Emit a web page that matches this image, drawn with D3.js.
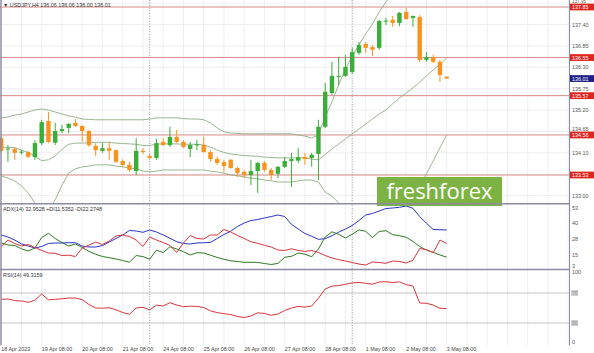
<!DOCTYPE html>
<html><head><meta charset="utf-8">
<script src="https://cdn.jsdelivr.net/npm/d3@7"></script>
<style>
html,body{margin:0;padding:0;background:#fff;}
svg{display:block;font-family:"Liberation Sans",Arial,sans-serif;}
</style></head><body>
<svg id="c" width="594" height="353"></svg>
<script>
// ---------- DATA ----------
const open  = [134.48,134.19,134.20,134.11,134.12,133.99,134.35,134.92,134.36,134.66,134.74,134.87,134.79,134.66,134.28,134.15,134.22,134.17,133.89,133.79,133.63,134.15,134.02,133.97,134.38,134.30,134.51,134.38,134.20,134.29,134.30,134.12,133.94,133.86,133.92,133.71,133.61,133.53,133.63,133.84,133.66,133.56,133.74,133.89,133.90,133.99,133.97,134.07,134.77,135.64,136.06,136.08,136.18,136.67,136.90,136.82,136.80,137.48,137.52,137.44,137.72,137.57,137.59,136.49,136.56,136.44,136.06];
const high  = [134.53,134.30,134.25,134.17,134.15,134.43,134.95,135.15,134.87,134.82,134.87,134.97,134.82,134.69,134.35,134.35,134.38,134.18,133.94,133.87,134.48,134.22,134.07,134.46,134.48,134.77,134.69,134.43,134.38,134.43,134.51,134.17,134.00,133.92,133.94,133.74,133.66,133.92,133.87,133.89,133.71,133.76,133.99,134.10,134.22,134.10,134.10,134.95,135.90,136.44,136.57,136.62,136.80,136.95,136.95,136.87,137.52,137.57,137.62,137.72,137.82,137.63,137.64,136.69,136.62,136.49,136.06];
const low   = [134.10,133.87,133.92,134.06,133.97,133.92,134.30,134.35,134.30,134.61,134.61,134.77,134.38,134.25,134.02,134.10,133.92,133.84,133.74,133.61,133.53,134.07,133.94,133.92,134.28,134.25,134.35,134.22,133.99,134.17,134.10,133.87,133.79,133.61,133.69,133.48,133.45,133.27,133.07,133.61,133.40,133.45,133.71,133.22,133.84,133.79,133.74,133.40,134.74,135.59,135.85,136.05,136.13,136.62,136.67,136.59,136.75,137.39,137.34,137.36,137.52,137.34,136.44,136.44,136.41,135.92,136.00];
const close = [134.15,134.21,134.10,134.13,134.00,134.35,134.89,134.38,134.66,134.71,134.84,134.79,134.66,134.30,134.17,134.22,134.15,133.87,133.79,133.66,134.15,134.12,133.97,134.35,134.30,134.51,134.38,134.25,134.30,134.32,134.12,133.94,133.84,133.76,133.71,133.58,133.53,133.63,133.84,133.66,133.53,133.74,133.89,133.94,133.99,133.94,134.05,134.77,135.67,136.08,136.08,136.31,136.69,136.87,136.80,136.75,137.49,137.50,137.44,137.70,137.54,137.62,136.49,136.56,136.44,136.10,136.01];

const bbUpper  = [135.00,135.02,135.07,135.10,135.15,135.20,135.23,135.20,135.15,135.10,135.05,135.02,134.97,134.96,134.95,134.95,134.95,134.95,134.95,134.95,134.95,134.95,134.97,135.00,135.00,135.00,135.00,134.98,134.97,134.97,134.95,134.87,134.74,134.64,134.61,134.60,134.59,134.59,134.59,134.59,134.59,134.59,134.59,134.59,134.56,134.53,134.48,134.56,135.02,135.41,135.85,136.26,136.59,136.87,137.16,137.41,137.72,137.98,138.18,138.34,138.47,138.57,138.60,138.60,138.57,138.54,138.52];
const bbMiddle = [134.25,134.24,134.23,134.17,134.11,134.01,133.90,133.92,134.02,134.19,134.32,134.35,134.35,134.36,134.37,134.37,134.37,134.35,134.34,134.33,134.32,134.29,134.29,134.32,134.33,134.33,134.33,134.32,134.32,134.32,134.30,134.25,134.17,134.11,134.07,134.05,134.03,134.02,134.01,133.99,133.98,133.97,133.97,133.97,133.97,133.97,133.94,133.92,134.06,134.20,134.33,134.46,134.59,134.71,134.84,134.97,135.10,135.20,135.36,135.51,135.64,135.77,135.92,136.08,136.23,136.38,136.54];
const bbLower  = [133.51,133.45,133.38,133.25,133.07,132.81,132.58,132.63,132.89,133.27,133.58,133.69,133.74,133.76,133.79,133.79,133.79,133.76,133.74,133.71,133.69,133.63,133.61,133.63,133.66,133.66,133.66,133.66,133.66,133.66,133.66,133.63,133.61,133.58,133.53,133.51,133.48,133.45,133.43,133.40,133.38,133.35,133.35,133.35,133.38,133.40,133.40,133.35,133.09,132.99,132.81,132.66,132.58,132.55,132.53,132.53,132.48,132.43,132.53,132.68,132.81,132.97,133.25,133.56,133.89,134.23,134.56];

const adx     = [28.98,27.4,25.0,22.0,20.3,18.75,19.93,22.29,22.69,22.69,22.92,22.92,20.3,19.54,19.54,20.7,23.47,26.23,28.98,32.53,32.13,31.11,32.92,31.35,29.0,26.39,23.71,22.29,21.90,22.69,22.92,23.08,26.23,29.38,31.90,35.68,38.43,40.40,41.19,42.37,43.55,44.73,43.55,37.41,33.71,30.17,27.96,25.60,26.07,28.43,31.19,33.71,36.46,40.40,44.73,45.91,47.88,49.85,50.24,50.80,51.82,50.0,43.55,38.20,33.3,33.1,32.95];
const plusDI  = [22.69,21.11,20.72,18.12,16.39,18.75,27.02,30.32,26.23,23.08,20.32,21.90,19.14,16.15,13.79,12.06,11.11,10.09,8.91,7.57,12.84,11.98,9.93,17.02,15.13,19.77,17.96,15.83,13.24,15.05,14.81,13.08,11.35,9.85,8.67,8.12,7.49,7.49,7.41,6.54,5.76,6.62,11.43,12.21,14.81,13.87,11.82,17.96,27.41,31.50,29.54,26.62,29.54,33.00,31.90,27.02,31.74,32.37,29.30,28.43,27.25,23.87,19.93,17.17,15.36,13.24,11.54];
const minusDI = [19.54,25.05,22.29,20.32,21.50,19.14,16.78,14.81,14.57,12.84,13.08,12.06,18.75,20.95,23.47,21.50,24.26,28.20,28.98,27.80,25.05,19.93,27.41,25.05,23.08,20.72,15.20,22.69,28.59,26.23,25.83,28.98,28.98,33.31,31.35,28.59,26.23,23.63,22.45,20.87,19.54,17.17,16.78,18.12,16.78,15.99,16.78,15.20,12.84,10.87,9.54,8.51,7.33,6.15,5.36,7.72,7.33,6.70,8.51,8.12,6.94,9.06,18.35,17.41,15.05,25.05,22.27];
const rsi     = [61.6,62.0,60.0,59.33,57.6,60.4,68.67,60.93,61.6,62.27,63.33,63.33,61.2,54.67,50.0,49.73,50.4,47.6,44.0,41.73,50.13,50.93,47.47,53.87,52.67,57.07,54.0,51.73,52.4,52.13,50.67,46.27,43.87,42.4,41.33,38.67,37.33,39.33,43.6,42.67,40.27,42.0,46.67,49.87,52.13,51.2,52.67,63.07,75.33,79.2,79.87,81.6,83.47,84.13,82.93,81.73,84.67,85.07,83.87,84.93,81.2,79.33,56.67,56.27,54.0,49.6,49.32];

const timeLabels    = ["18 Apr 2023","19 Apr 08:00","20 Apr 08:00","21 Apr 08:00","24 Apr 08:00","25 Apr 08:00","26 Apr 08:00","27 Apr 08:00","28 Apr 08:00","1 May 08:00","2 May 08:00","3 May 08:00"];
const timeLabelBars = [0,6,12,18,24,30,36,42,48,54,60,66];
const weekSeparatorBars = [22,52];
const priceTicks  = [137.95,137.40,136.85,136.30,135.75,135.20,134.65,134.10,133.55,133.00];
const levelLines  = [137.85,136.55,135.57,134.56,133.53];
const currentPrice = 136.01;
const adxTicks  = [53,40.5,28,15.5,3];
const adxTickLabels = ["53","40","28","15","3"];
const rsiLevels = [70,30];
const header   = "USDJPY,H4 136.06 136.06 136.00 136.01";
const adxHeader = "ADX(14) 32.9528 +DI11.5352 -DI22.2748";
const rsiHeader = "RSI(14) 49.3159";

// ---------- LAYOUT ----------
const axisX = 569.5;
const FS = 5.4;
const svg = d3.select("#c");
const n = close.length;
const x = d3.scaleLinear().domain([0, 66]).range([1.2, 446.7]);
const yP = d3.scaleLinear().domain([133.53, 137.85]).range([175, 7]);
const yA = d3.scaleLinear().domain([3, 53]).range([268, 204.5]);
const yR = d3.scaleLinear().domain([0, 100]).range([345.5, 270.5]);

const col = {green:"#3aae38", orange:"#f7931e", grid:"#ebebf0", level:"#d88a86",
  levelBox:"#e0251f", bb:"#8fae84", blue:"#2a34c8", red:"#d8353b", dgreen:"#2f7a22",
  axis:"#8b8ba3", text:"#555"};

const defs = svg.append("defs");
function clip(id, y0, y1){ defs.append("clipPath").attr("id", id).append("rect")
  .attr("x", 0).attr("y", y0).attr("width", axisX).attr("height", y1 - y0); }
clip("cMain", 0, 203); clip("cAdx", 204.5, 268.5); clip("cRsi", 270.5, 345.5);

// vertical grid
const gridBars = d3.range(0, 85, 3);
svg.append("g").selectAll("line").data(gridBars).join("line")
  .attr("x1", d => x(d)).attr("x2", d => x(d)).attr("y1", 0).attr("y2", 345.5)
  .attr("stroke", col.grid).attr("stroke-width", 0.8);
// horizontal grid main
svg.append("g").selectAll("line").data(priceTicks).join("line")
  .attr("x1", 0).attr("x2", axisX).attr("y1", d => yP(d)).attr("y2", d => yP(d))
  .attr("stroke", col.grid).attr("stroke-width", 0.8);

// week separators
svg.append("g").selectAll("line").data(weekSeparatorBars).join("line")
  .attr("x1", d => x(d)).attr("x2", d => x(d)).attr("y1", 0).attr("y2", 345.5)
  .attr("stroke", "#777").attr("stroke-width", 0.8).attr("stroke-dasharray", "1,1.6");

// level lines
svg.append("g").selectAll("line").data(levelLines).join("line")
  .attr("x1", 0).attr("x2", axisX).attr("y1", d => yP(d)).attr("y2", d => yP(d))
  .attr("stroke", col.level).attr("stroke-width", 1);

// Bollinger
const main = svg.append("g").attr("clip-path", "url(#cMain)");
[bbUpper, bbMiddle, bbLower].forEach(arr => {
  main.append("path").datum(arr)
    .attr("d", d3.line().x((d, i) => x(i)).y(d => yP(d)))
    .attr("fill", "none").attr("stroke", col.bb).attr("stroke-width", 0.9);
});

// candles
const idx = d3.range(n);
const cg = main.append("g");
cg.selectAll("line").data(idx).join("line")
  .attr("x1", i => x(i)).attr("x2", i => x(i))
  .attr("y1", i => yP(high[i])).attr("y2", i => yP(low[i]))
  .attr("stroke", i => close[i] >= open[i] ? col.green : col.orange).attr("stroke-width", 1);
const bw = 4.4;
cg.selectAll("rect").data(idx).join("rect")
  .attr("x", i => x(i) - bw / 2).attr("width", bw)
  .attr("y", i => yP(Math.max(open[i], close[i])))
  .attr("height", i => Math.max(1, Math.abs(yP(open[i]) - yP(close[i]))))
  .attr("fill", i => close[i] >= open[i] ? col.green : col.orange);

// ADX lines
const ag = svg.append("g").attr("clip-path", "url(#cAdx)");
[[adx, col.blue], [plusDI, col.dgreen], [minusDI, col.red]].forEach(([arr, c]) => {
  ag.append("path").datum(arr)
    .attr("d", d3.line().x((d, i) => x(i)).y(d => yA(d)))
    .attr("fill", "none").attr("stroke", c).attr("stroke-width", 1);
});

// RSI
const rg = svg.append("g").attr("clip-path", "url(#cRsi)");
rg.selectAll("line.lv").data(rsiLevels).join("line").attr("class", "lv")
  .attr("x1", 0).attr("x2", axisX).attr("y1", d => yR(d)).attr("y2", d => yR(d))
  .attr("stroke", "#c4c4c4").attr("stroke-width", 1);
rg.append("path").datum(rsi)
  .attr("d", d3.line().x((d, i) => x(i)).y(d => yR(d)))
  .attr("fill", "none").attr("stroke", col.red).attr("stroke-width", 1);

// logo
const logo = svg.append("g");
logo.append("rect").attr("x", 377).attr("y", 177).attr("width", 125).attr("height", 29).attr("fill", "#7cb342");
logo.append("text").attr("x", 439.5).attr("y", 199).attr("text-anchor", "middle")
  .attr("font-size", 22).attr("fill", "#fff").attr("font-family", "'Open Sans',sans-serif").text("freshforex");

// panel separators & borders
svg.append("line").attr("x1", 0).attr("x2", axisX).attr("y1", 203.7).attr("y2", 203.7).attr("stroke", col.axis).attr("stroke-width", 1.6);
svg.append("line").attr("x1", 0).attr("x2", axisX).attr("y1", 269.5).attr("y2", 269.5).attr("stroke", col.axis).attr("stroke-width", 1.6);
svg.append("line").attr("x1", axisX).attr("x2", axisX).attr("y1", 0).attr("y2", 345.5).attr("stroke", col.axis).attr("stroke-width", 1);
svg.append("line").attr("x1", 1).attr("x2", 1).attr("y1", 0).attr("y2", 345.5).attr("stroke", col.axis).attr("stroke-width", 1.4);

// right axis labels main (a label under a level box sits just above it; fully covered ones are skipped)
const lab = svg.append("g").attr("font-size", FS).attr("fill", col.text);
const boxH = 6.8;
priceTicks.forEach(t => {
  let yy = yP(t) + 2;
  let fs = FS;
  const hit = levelLines.find(l => Math.abs(yP(l) - yP(t)) < boxH);
  if (hit !== undefined) {
    if (Math.abs(yP(hit) - yP(t)) < 2) return;
    yy = yP(hit) - boxH / 2 - 0.3;
    if (yy < 4.2) { fs = 4.6; yy = Math.max(yy, 3.4); }
  }
  lab.append("text").attr("x", 572).attr("y", yy).attr("font-size", fs).text(t.toFixed(2));
});
// level boxes
const lb = svg.append("g").attr("font-size", FS);
levelLines.forEach(v => {
  lb.append("rect").attr("x", axisX + 0.5).attr("y", yP(v) - boxH / 2).attr("width", 24).attr("height", boxH).attr("fill", col.levelBox);
  lb.append("text").attr("x", 572).attr("y", yP(v) + 2).attr("fill", "#fff").text(v.toFixed(2));
});
lb.append("rect").attr("x", axisX + 0.5).attr("y", yP(currentPrice) - boxH / 2).attr("width", 24).attr("height", boxH).attr("fill", "#1f1f88");
lb.append("text").attr("x", 572).attr("y", yP(currentPrice) + 2).attr("fill", "#fff").text(currentPrice.toFixed(2));

// ADX axis labels
lab.selectAll("text.at").data(adxTicks).join("text").attr("class", "at")
  .attr("x", 572).attr("y", d => Math.min(yA(d) + 5, 267.5)).text((d, i) => adxTickLabels[i]);
// RSI labels
lab.append("text").attr("x", 572).attr("y", yR(100) + 3.5).text("100");
lab.append("text").attr("x", 572).attr("y", yR(0) - 1.5).text("0");
rsiLevels.forEach(v => {
  lab.append("rect").attr("x", 571).attr("y", yR(v) - 3).attr("width", 7).attr("height", 6).attr("fill", "#d2d2d2");
  lab.append("text").attr("x", 571.8).attr("y", yR(v) + 2).attr("fill", "#888").text(v);
});

// time labels
lab.selectAll("text.tl").data(timeLabelBars).join("text").attr("class", "tl")
  .attr("x", d => x(d)).attr("y", 351).attr("fill", "#444").text((d, i) => timeLabels[i]);

// headers
const hd = svg.append("g").attr("font-size", FS).attr("fill", "#333");
hd.append("text").attr("x", 3).attr("y", 7).text("\u25BC " + header);
hd.append("text").attr("x", 3).attr("y", 211).text(adxHeader);
hd.append("text").attr("x", 3).attr("y", 276.5).text(rsiHeader);
</script>
</body></html>
